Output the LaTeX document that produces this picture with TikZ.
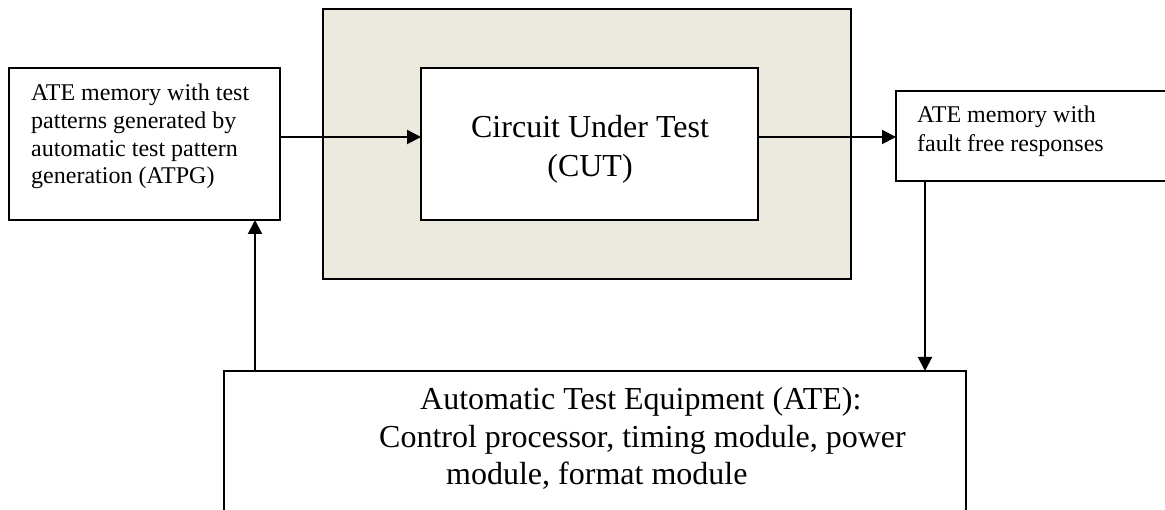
\documentclass[tikz,border=0pt]{standalone}
\usepackage{fontspec}
\setmainfont{Liberation Serif}
\usetikzlibrary{arrows.meta}
\definecolor{cutshade}{RGB}{236,233,223}
\tikzset{
  box/.style={draw=black, line width=1.3pt, fill=white, rectangle, inner sep=0pt, outer sep=0pt},
  shadebox/.style={draw=black, line width=1.8pt, fill=cutshade, rectangle, inner sep=0pt, outer sep=0pt},
  arr/.style={line width=2pt, -{Triangle[length=14pt,width=14pt]}},
  smalltxt/.style={font=\fontsize{24pt}{28pt}\selectfont, inner sep=0pt, anchor=base west},
  bigtxt/.style={font=\fontsize{32pt}{38pt}\selectfont, inner sep=0pt},
}
\begin{document}
\begin{tikzpicture}[x=1pt,y=-1pt]
\useasboundingbox (0,0) rectangle (1165,510);
\clip (0,0) rectangle (1165,510);

% boxes
\node[shadebox, minimum width=528pt, minimum height=270pt] (shade) at (587,144) {};
\node[box, minimum width=337pt, minimum height=152pt] (cut) at (589.5,144) {};
\node[box, minimum width=271pt, minimum height=152pt] (leftbox) at (144.5,144) {};
\node[box, minimum width=290pt, minimum height=90pt] (rightbox) at (1041,136) {};
\node[box, minimum width=742pt, minimum height=169pt] (atebox) at (595,455.5) {};

% texts
\node[smalltxt] (l1) at (31,101) {ATE memory with test};
\node[smalltxt] (l2) at (31,129) {patterns generated by};
\node[smalltxt] (l3) at (31,157) {automatic test pattern};
\node[smalltxt] (l4) at (31,184) {generation (ATPG)};

\node[smalltxt] (r1) at (917,123) {ATE memory with};
\node[smalltxt] (r2) at (917,152) {fault free responses};

\node[bigtxt, anchor=base] (c1) at (590,138) {Circuit Under Test};
\node[bigtxt, anchor=base] (c2) at (590,177) {(CUT)};

\node[bigtxt, anchor=base west] (a1) at (420,410) {Automatic Test Equipment (ATE):};
\node[bigtxt, anchor=base west] (a2) at (379,448) {Control processor, timing module, power};
\node[bigtxt, anchor=base west] (a3) at (446,485) {module, format module};

% connectors
\coordinate (ay) at (0,137);
\coordinate (dx) at (925,0);
\coordinate (ux) at (255,0);
\draw[arr] (leftbox.east |- ay) -- (cut.west |- ay);
\draw[arr] (cut.east |- ay) -- (rightbox.west |- ay);
\draw[arr] (rightbox.south -| dx) -- (atebox.north -| dx);
\draw[arr] (atebox.north -| ux) -- (leftbox.south -| ux);
\end{tikzpicture}
\end{document}
